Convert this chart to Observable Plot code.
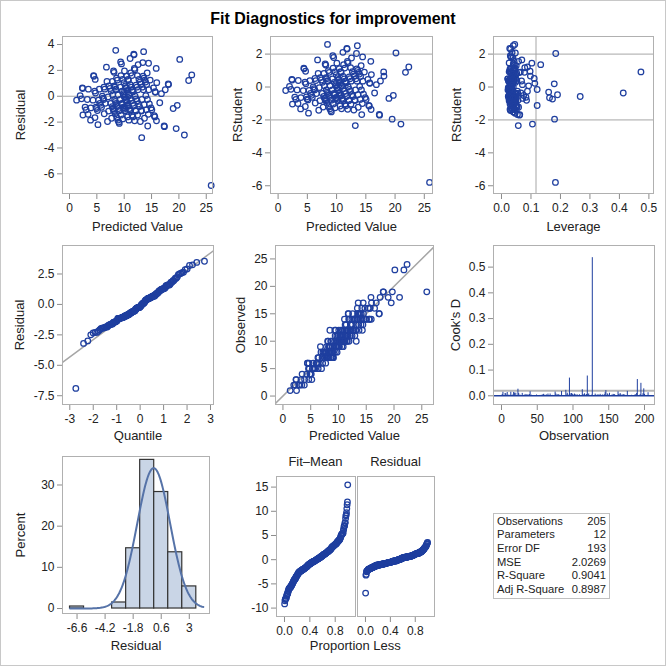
<!DOCTYPE html>
<html><head><meta charset="utf-8">
<script src="https://cdn.jsdelivr.net/npm/d3@7"></script>
<script src="https://cdn.jsdelivr.net/npm/@observablehq/plot@0.6"></script>
<style>
body{margin:0;background:#fff;}
#root{position:relative;width:666px;height:666px;font-family:'Liberation Sans',Arial,Helvetica,sans-serif;color:#222;overflow:hidden;background:#fff}
#border{position:absolute;left:0;top:0;width:666px;height:666px;box-sizing:border-box;border:1px solid #c8c8c8;pointer-events:none}
#title{position:absolute;left:0;width:666px;top:9px;text-align:center;font-weight:bold;font-size:16px;line-height:20px;color:#000}
.lbl{position:absolute;text-align:center;font-size:13px;line-height:16px;color:#222;white-space:nowrap}
#stats{position:absolute;left:493px;top:513px;width:117px;box-sizing:border-box;border:1px solid #c0c0c0;padding:0.5px 3px 1px 3px;font-size:11.2px;color:#222}
#stats .row{display:flex;justify-content:space-between;height:13.7px;line-height:13.7px;white-space:nowrap}
</style></head>
<body><div id="root"><div id="title">Fit Diagnostics for improvement</div></div>
<script>
// ---------------- data (observation order) ----------------
const predicted = [
9.00,11.08,7.05,1.30,14.45,9.10,5.10,11.75,7.20,15.05,
9.12,13.05,11.80,1.95,7.15,9.25,17.30,12.55,9.30,5.20,
7.40,2.35,8.45,9.35,11.05,13.10,7.55,2.40,9.50,5.30,
11.10,15.65,9.40,7.60,13.45,2.45,11.15,9.45,7.70,17.35,
9.55,11.15,5.45,13.25,7.80,2.20,9.60,11.30,7.85,15.70,
9.65,13.30,11.35,2.85,7.95,9.70,5.55,11.40,9.75,8.00,
13.15,3.05,11.45,9.80,8.05,5.70,17.50,9.85,11.50,13.50,
8.10,3.25,9.90,11.55,15.50,8.15,9.95,5.85,13.60,11.60,
10.00,8.18,3.45,6.75,11.65,10.10,8.25,13.65,6.00,13.55,
10.15,11.70,3.40,8.30,19.50,13.70,10.20,11.85,15.60,8.35,
10.25,3.85,11.90,6.15,13.75,10.12,8.40,12.00,18.10,10.35,
8.50,3.90,11.20,11.95,13.90,10.40,6.30,8.55,12.10,13.40,
10.45,15.90,4.30,13.95,12.15,8.60,25.90,10.50,6.45,12.20,
8.65,14.05,10.55,4.45,12.15,18.95,8.70,10.60,14.10,12.30,
6.35,10.65,8.75,4.40,15.85,10.05,12.35,14.20,10.70,8.80,
12.40,4.60,10.75,6.85,14.25,8.85,12.45,10.78,19.70,4.75,
8.90,12.50,14.30,10.85,15.95,6.95,12.60,8.95,10.90,4.65,
14.40,12.70,10.95,8.20,6.25,20.15,12.80,9.62,14.50,4.85,
7.90,12.90,16.50,10.05,14.60,6.55,12.95,10.40,4.95,18.05,
8.45,10.65,11.55,14.75,21.00,16.80,9.90,4.70,13.20,21.78,
10.30,14.90,15.35,10.85,22.35];

const observed = [
7,14,7,1,17,7,4,15,8,14,
8,14,15,2,6,9,15,15,10,3,
8,3,12,12,10,12,7,3,12,5,
12,16,11,8,15,1,11,8,6,15,
9,10,6,13,7,2,10,12,9,16,
9,14,11,2,7,11,5,13,8,7,
12,2,10,10,10,5,18,9,12,14,
7,3,10,11,14,10,11,5,15,10,
9,7,4,9,12,10,8,13,6,17,
9,11,2,9,17,12,11,14,14,7,
10,2,10,6,15,9,8,12,19,11,
9,3,13,14,15,10,7,8,11,16,
12,14,4,14,13,10,19,10,7,12,
7,13,11,6,11,18,8,9,15,13,
5,10,10,6,18,12,12,16,12,8,
14,5,10,8,14,7,11,12,19,5,
9,13,12,9,17,5,12,8,11,3,
13,14,10,9,6,23,12,9,15,4,
8,14,16,10,14,6,11,11,4,19,
9,11,12,16,18,17,9,6,10,23,
10,14,16,11,24];

const leverage = [
.031,.036,.030,.028,.032,.040,.032,.028,.036,.047,
.027,.037,.031,.035,.049,.036,.054,.039,.022,.046,
.027,.042,.045,.030,.033,.044,.033,.031,.034,.037,
.045,.036,.046,.041,.029,.038,.027,.029,.038,.061,
.038,.038,.024,.035,.023,.025,.033,.030,.052,.113,
.051,.048,.088,.047,.029,.026,.055,.042,.042,.034,
.031,.033,.035,.035,.040,.031,.068,.163,.024,.026,
.031,.029,.028,.049,.121,.044,.039,.083,.042,.032,
.032,.026,.052,.069,.037,.024,.037,.036,.040,.040,
.045,.267,.036,.021,.180,.058,.037,.043,.052,.047,
.030,.044,.029,.028,.033,.056,.160,.034,.098,.033,
.032,.027,.133,.026,.039,.413,.111,.039,.085,.184,
.041,.044,.039,.030,.040,.028,.183,.027,.035,.121,
.053,.045,.036,.030,.031,.072,.035,.048,.034,.036,
.043,.031,.030,.034,.058,.103,.054,.050,.044,.042,
.079,.048,.025,.038,.028,.036,.041,.060,.075,.179,
.092,.027,.062,.034,.049,.050,.190,.025,.029,.041,
.038,.033,.040,.043,.022,.047,.046,.035,.043,.026,
.034,.038,.066,.023,.035,.045,.030,.038,.173,.473,
.038,.032,.035,.064,.105,.071,.047,.097,.057,.078,
.028,.040,.039,.036,.088];

const statLabels = ["Observations","Parameters","Error DF","MSE","R-Square","Adj R-Square"];
const statValues = ["205","12","193","2.0269","0.9041","0.8987"];
const histEdges = [-7.2,-6.0,-4.8,-3.6,-2.4,-1.2,0,1.2,2.4,3.6];

// ---------------- derived statistics ----------------
const n = predicted.length, p = +statValues[1], mse = +statValues[3];
const rows = predicted.map((pr, i) => {
  const h = leverage[i], e = observed[i] - pr;
  const r = e / Math.sqrt(mse * (1 - h));
  const t = r * Math.sqrt((n - p - 1) / (n - p - r * r));
  return {obs: i + 1, pred: pr, observed: observed[i], lev: h, resid: e, rstud: t, cook: r * r * h / (p * (1 - h))};
});
const resid = rows.map(d => d.resid);
function qnorm(pp){
 const a=[-3.969683028665376e+01,2.209460984245205e+02,-2.759285104469687e+02,1.383577518672690e+02,-3.066479806614716e+01,2.506628277459239e+00];
 const b=[-5.447609879822406e+01,1.615858368580409e+02,-1.556989798598866e+02,6.680131188771972e+01,-1.328068155288572e+01];
 const c=[-7.784894002430293e-03,-3.223964580411365e-01,-2.400758277161838e+00,-2.549732539343734e+00,4.374664141464968e+00,2.938163982698783e+00];
 const d=[7.784695709041462e-03,3.224671290700398e-01,2.445134137142996e+00,3.754408661907416e+00];
 const pl=0.02425; let q,r;
 if(pp<pl){q=Math.sqrt(-2*Math.log(pp));return (((((c[0]*q+c[1])*q+c[2])*q+c[3])*q+c[4])*q+c[5])/((((d[0]*q+d[1])*q+d[2])*q+d[3])*q+1);}
 if(pp<=1-pl){q=pp-0.5;r=q*q;return (((((a[0]*r+a[1])*r+a[2])*r+a[3])*r+a[4])*r+a[5])*q/(((((b[0]*r+b[1])*r+b[2])*r+b[3])*r+b[4])*r+1);}
 q=Math.sqrt(-2*Math.log(1-pp));return -(((((c[0]*q+c[1])*q+c[2])*q+c[3])*q+c[4])*q+c[5])/((((d[0]*q+d[1])*q+d[2])*q+d[3])*q+1);
}
const sortedRes = resid.slice().sort(d3.ascending);
const qq = sortedRes.map((v, i) => ({q: qnorm((i + 1 - 0.375) / (n + 0.25)), r: v}));
const meanRes = d3.mean(resid), sdRes = d3.deviation(resid);
const meanY = d3.mean(observed);
const fitMean = rows.map(d => d.pred - meanY).sort(d3.ascending).map((v, i) => ({p: (i + 0.5) / n, v}));
const resRF = sortedRes.map((v, i) => ({p: (i + 0.5) / n, v}));
const bins = d3.bin().domain([histEdges[0], histEdges[histEdges.length - 1]]).thresholds(histEdges.slice(1, -1))(resid).filter(b => b.length > 0);
const binW = histEdges[1] - histEdges[0];
const curve = d3.range(0, 229).map(k => {
  const x = histEdges[0] + k * 0.05;
  const z = (x - meanRes) / sdRes;
  return {x, y: 100 * binW * Math.exp(-0.5 * z * z) / (sdRes * Math.sqrt(2 * Math.PI))};
});

// ---------------- drawing ----------------
const BLUE = "#1f3f9f", REF = "#a6a6a6", FRAME = "#b0b0b0", TICK = "#8c8c8c", TXT = "#222";
const FONT = "'Liberation Sans', Arial, Helvetica, sans-serif";
const root = document.getElementById("root");
function panel(f, xd, yd, marks) {
  const [x0, x1, y0, y1] = f;
  const PL = 56, PR = 10, PT = 8, PB = 44;
  const svg = Plot.plot({
    width: x1 - x0 + PL + PR, height: y1 - y0 + PT + PB,
    marginLeft: PL, marginRight: PR, marginTop: PT, marginBottom: PB,
    x: {domain: xd, label: null, axis: null}, y: {domain: yd, label: null, axis: null},
    style: {fontFamily: FONT, fontSize: "12px", background: "transparent", color: TXT, overflow: "visible"},
    marks: [...marks, Plot.frame({stroke: FRAME})]
  });
  svg.style.position = "absolute"; svg.style.left = (x0 - PL) + "px"; svg.style.top = (y0 - PT) + "px";
  svg.style.maxWidth = "none";
  root.appendChild(svg);
}
const f1 = d => d.toFixed(1);
const fs = d => String(d);
const ax = (ticks, fmt = fs) => Plot.axisX({ticks, tickFormat: fmt, tickSize: 6, tickPadding: 4, stroke: TICK, fill: TXT, label: null, fontSize: 12});
const ay = (ticks, fmt = fs) => Plot.axisY({ticks, tickFormat: fmt, tickSize: 5, tickPadding: 3, stroke: TICK, fill: TXT, label: null, fontSize: 12});
const xl = (t, dy = 33) => Plot.text([t], {text: d => d, frameAnchor: "bottom", dy, lineAnchor: "middle", textAnchor: "middle", fontSize: 13, fill: TXT});
const yl = (t, dx) => Plot.text([t], {text: d => d, frameAnchor: "left", dx: -dx, rotate: -90, lineAnchor: "middle", textAnchor: "middle", fontSize: 13, fill: TXT});
const dots = (data, x, y) => Plot.dot(data, {x, y, r: 2.8, stroke: BLUE, strokeWidth: 1.25, fill: "none"});

// 1 Residual vs Predicted
panel([62, 212, 36, 193], [-1.28, 26.14], [-7.52, 4.62], [
  Plot.ruleY([0], {stroke: REF}),
  ax([0,5,10,15,20,25]), ay([-6,-4,-2,0,2,4]),
  dots(rows, "pred", "resid"), xl("Predicted Value"), yl("Residual", 42)]);
// 2 RStudent vs Predicted
panel([270, 432, 36, 193], [-1.3, 26.4], [-6.47, 3.07], [
  Plot.ruleY([-2, 2], {stroke: REF}),
  ax([0,5,10,15,20,25]), ay([-6,-4,-2,0,2]),
  dots(rows, "pred", "rstud"), xl("Predicted Value"), yl("RStudent", 33)]);
// 3 RStudent vs Leverage
panel([493, 653, 36, 193], [-0.0271, 0.5156], [-6.47, 3.07], [
  Plot.ruleY([-2, 2], {stroke: REF}), Plot.ruleX([2 * p / n], {stroke: REF}),
  ax([0,0.1,0.2,0.3,0.4,0.5], f1), ay([-6,-4,-2,0,2]),
  dots(rows, "lev", "rstud"), xl("Leverage"), yl("RStudent", 37)]);
// 4 QQ
const qx = [-3.311, 3.128];
panel([62, 213, 245, 404], qx, [-8.22, 4.84], [
  Plot.line(qx.map(x => ({x, y: meanRes + Math.sqrt(mse) * x})), {x: "x", y: "y", stroke: REF, clip: true}),
  ax([-3,-2,-1,0,1,2,3]), ay([-7.5,-5,-2.5,0,2.5], f1),
  dots(qq, "q", "r"), xl("Quantile", 31.5), yl("Residual", 43)]);
// 5 Observed vs Predicted
const od = [-1.54, 27.45];
panel([275, 433, 245, 404], [-1.34, 27.11], od, [
  Plot.line(od.map(v => ({v})), {x: "v", y: "v", stroke: REF, clip: true}),
  ax([0,5,10,15,20,25]), ay([0,5,10,15,20,25]),
  dots(rows, "pred", "observed"), xl("Predicted Value", 31.5), yl("Observed", 35)]);
// 6 Cook's D
panel([493, 654, 245, 404], [-11.2, 214], [-0.0338, 0.584], [
  Plot.ruleY([4 / n], {stroke: "#b4b4b4", strokeWidth: 2}),
  Plot.ruleY([0], {stroke: BLUE, strokeWidth: 1.5}),
  Plot.ruleX(rows, {x: "obs", y1: 0, y2: "cook", stroke: BLUE, strokeWidth: 1}),
  ax([0,50,100,150,200]), ay([0,0.1,0.2,0.3,0.4,0.5], f1),
  xl("Observation", 31.5), yl("Cook's D", 38)]);
// 7 Histogram
panel([62, 209, 456, 613], [-7.844, 4.729], [-1.21, 36.92], [
  Plot.rectY(bins, {x1: d => d.x0, x2: d => d.x1, y1: 0, y2: d => d.length / n * 100, fill: "#c9d5e6", stroke: "#333", strokeWidth: 1.2}),
  Plot.line(curve, {x: "x", y: "y", stroke: "#5673a8", strokeWidth: 2}),
  ax([-6.6,-4.2,-1.8,0.6,3]), ay([0,10,20,30]),
  xl("Residual", 32.5), yl("Percent", 42)]);
// 8 RF plot
panel([276, 355, 476, 616], [-0.126, 1.12], [-11.74, 17.19], [
  ax([0,0.4,0.8], f1), ay([-10,-5,0,5,10,15]),
  dots(fitMean, "p", "v")]);
panel([357, 434, 476, 616], [-0.128, 1.109], [-11.74, 17.19], [
  ax([0,0.4,0.8], f1),
  dots(resRF, "p", "v")]);
function label(text, cx, cy) {
  const el = document.createElement("div");
  el.className = "lbl"; el.textContent = text;
  el.style.left = (cx - 60) + "px"; el.style.width = "120px"; el.style.top = (cy - 8) + "px";
  root.appendChild(el);
}
label("Fit\u2013Mean", 315.5, 462.3);
label("Residual", 395.5, 462.3);
label("Proportion Less", 355.3, 646.3);
// 9 Statistics table
const st = document.createElement("div"); st.id = "stats";
statLabels.forEach((s, i) => {
  const r = document.createElement("div"); r.className = "row";
  const a = document.createElement("span"); a.textContent = s;
  const b = document.createElement("span"); b.textContent = statValues[i];
  r.append(a, b); st.appendChild(r);
});
root.appendChild(st);
const bd = document.createElement("div"); bd.id = "border"; root.appendChild(bd);
</script></body></html>
